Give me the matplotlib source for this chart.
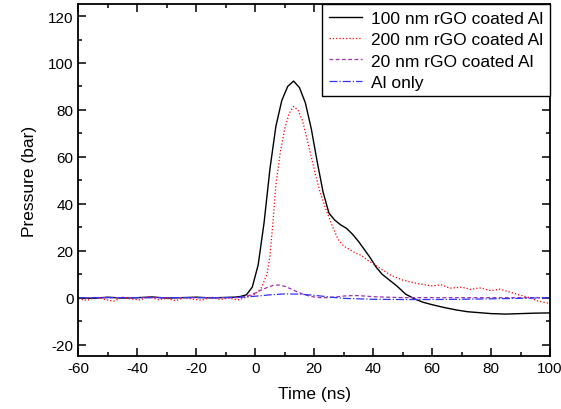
import matplotlib
matplotlib.use("Agg")
import matplotlib.pyplot as plt
from matplotlib.ticker import MultipleLocator

plt.rcParams['font.family'] = ['Liberation Sans', 'DejaVu Sans']
plt.rcParams['axes.unicode_minus'] = False

# 100 nm rGO coated Al
t_100 = [-60, -55, -50, -45, -40, -35, -30, -25, -20, -15, -10, -7, -5, -3, -1, 1, 3, 5, 7, 9,
         11, 13, 15, 17, 19, 21, 23, 25, 27, 29, 31, 33, 35, 37, 39, 41, 43, 45, 48, 51,
         54, 57, 60, 64, 68, 72, 76, 80, 85, 90, 95, 100]
p_100 = [0, -0.3, 0.2, -0.2, 0, 0.3, -0.2, 0, 0.2, -0.1, 0.1, 0.2, 0.5, 1.2, 4.5, 14, 32, 55, 73, 84,
         90, 92.3, 89.5, 83, 72, 58, 45, 36, 33, 31, 29.5, 27, 24, 20.5, 17, 13, 10, 8, 5, 1.5,
         -0.5, -2, -3, -4.2, -5.2, -6, -6.4, -6.8, -7, -6.8, -6.6, -6.5]

# 200 nm rGO coated Al
t_200 = [-60, -57, -54, -51, -48, -45, -42, -39, -36, -33, -30, -27, -24, -21, -18, -15, -12, -9,
         -6, -3, 0, 2, 4, 5, 6, 7, 8.5, 10, 11.5, 13, 14.5, 16, 17.5, 19, 20.5, 22, 24, 26, 28,
         30, 32, 34, 36, 38, 40, 43, 46, 50, 55, 60, 63, 66, 70, 73, 76, 80, 83, 86, 90, 93, 96, 100]
p_200 = [-0.5, -1.2, 0.3, -0.8, -1.5, 0.2, -0.6, -1.0, 0.4, -0.9, -0.3, -1.3, 0.1, -0.7, -1.1, 0.3, -0.8, -0.2,
         -1.0, 0.2, 1.5, 4, 10, 18, 32, 48, 62, 72, 78.5, 81.5, 80, 75.5, 68, 60, 52, 45, 37.5, 31, 25,
         22, 20.5, 19, 18, 16, 14.5, 12, 9.5, 7.5, 6, 5, 5.5, 4, 4.5, 3.5, 4.2, 3, 3.6, 2.5, 1, 0, -1.5, -2.5]

# 20 nm rGO coated Al
t_20 = [-60, -10, -6, -4, -2, 0, 2, 4, 6, 8, 10, 12, 14, 16, 18, 20, 22, 25, 28, 31, 34, 37, 40, 50, 60, 80, 100]
p_20 = [0, 0, 0, 0.3, 1, 2, 3.2, 4.3, 5.2, 5.4, 4.8, 3.8, 2.6, 1.6, 0.8, 0.3, 0, 0, 0.4, 0.8, 0.9, 0.7, 0.4, 0, 0, 0, 0]

# Al only
t_al = [-60, -10, -5, 0, 5, 10, 15, 20, 25, 30, 40, 50, 60, 70, 80, 90, 100]
p_al = [0, 0, 0.2, 0.6, 1.2, 1.6, 1.5, 1.0, 0.3, -0.3, -0.7, -0.8, -0.8, -0.7, -0.5, -0.3, 0]

fig = plt.figure(figsize=(5.61, 4.10), dpi=100)
ax = fig.add_axes([0.1396, 0.1285, 0.841, 0.8585])

ax.plot(t_100, p_100, color='black', lw=1.0, label='100 nm rGO coated Al')
ax.plot(t_200, p_200, color='red', lw=0.9, ls=':', label='200 nm rGO coated Al')
ax.plot(t_20, p_20, color='#A030B0', lw=0.9, ls='--', dashes=(3, 2), label='20 nm rGO coated Al')
ax.plot(t_al, p_al, color='#3333FF', lw=0.9, ls='-.', label='Al only')

ax.set_xlim(-60, 100)
ax.set_ylim(-25, 125)
ax.xaxis.set_major_locator(MultipleLocator(20))
ax.xaxis.set_minor_locator(MultipleLocator(10))
ax.yaxis.set_major_locator(MultipleLocator(20))
ax.yaxis.set_minor_locator(MultipleLocator(10))
ax.tick_params(which='both', direction='in', top=True, right=True, labelsize=11, width=1.1)
ax.tick_params(which='major', length=6)
ax.tick_params(which='minor', length=3)
for s in ax.spines.values():
    s.set_linewidth(1.3)

ax.set_xlabel('Time (ns)', fontsize=12.5, labelpad=8)
ax.set_ylabel('Pressure (bar)', fontsize=12.5, labelpad=8)

leg = ax.legend(loc='upper right', fontsize=12.5, borderaxespad=0, fancybox=False,
                edgecolor='black', framealpha=1, handlelength=1.9, handletextpad=0.55,
                labelspacing=0.35, borderpad=0.38)
leg.get_frame().set_linewidth(1.0)

fig.savefig('out.png', dpi=100)
